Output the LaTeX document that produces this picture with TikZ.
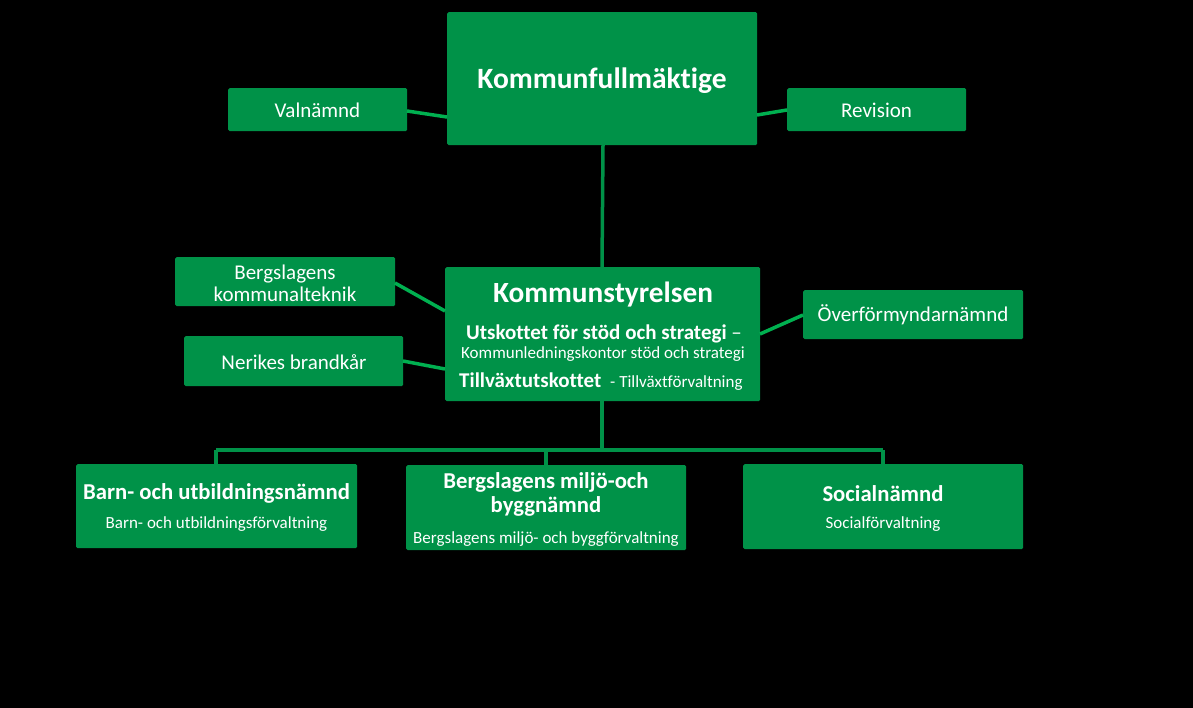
\documentclass[tikz,border=0pt]{standalone}
\usepackage{fontspec}
\setmainfont{Carlito}[Ligatures=NoCommon]
\definecolor{boxgreen}{RGB}{0,146,72}
\definecolor{linegreen}{RGB}{0,176,80}
\begin{document}
\begin{tikzpicture}[x=1pt,y=-1pt,
  box/.style={fill=boxgreen, draw=none, rounded corners=1.5pt, inner sep=0pt, text=white, align=center, anchor=north west},
  lbl/.style={text=white, inner sep=0pt, align=center, anchor=center},
  side/.style={draw=linegreen, line width=3.5pt},
  trunk/.style={draw=boxgreen, line width=3.5pt}]
\fill[black] (0,0) rectangle (1193,708);
\useasboundingbox (0,0) rectangle (1193,708);

% boxes
\node[box, minimum width=310pt, minimum height=133pt] (kf) at (447,12) {};
\node[box, minimum width=179pt, minimum height=43pt] (val) at (228,88) {};
\node[box, minimum width=179pt, minimum height=43pt] (rev) at (787,88) {};
\node[box, minimum width=315pt, minimum height=134pt] (ks) at (445,267) {};
\node[box, minimum width=220pt, minimum height=49pt] (bk) at (175,257) {};
\node[box, minimum width=219pt, minimum height=50pt] (nb) at (184,336) {};
\node[box, minimum width=220pt, minimum height=49pt] (of) at (803,290) {};
\node[box, minimum width=281pt, minimum height=84pt] (bu) at (76,464) {};
\node[box, minimum width=280pt, minimum height=85pt] (bm) at (406,465) {};
\node[box, minimum width=280pt, minimum height=85pt] (sn) at (743,464) {};

% texts
\node[lbl, font=\bfseries\fontsize{29.5}{34}\selectfont] (kft) at (602,81) {Kommunfullmäktige};
\node[lbl, font=\fontsize{21}{24}\selectfont] (valt) at (317.5,110) {Valnämnd};
\node[lbl, font=\fontsize{21}{24}\selectfont] (revt) at (876.5,110) {Revision};
\node[lbl, font=\fontsize{21}{22}\selectfont] (bkt) at (285,283) {Bergslagens\\kommunalteknik};
\node[lbl, font=\fontsize{21}{24}\selectfont] (nbt) at (294,362) {Nerikes brandkår};
\node[lbl, font=\fontsize{21}{24}\selectfont] (oft) at (913,315) {Överförmyndarnämnd};

\node[lbl, font=\bfseries\fontsize{29.3}{34}\selectfont] (kst) at (603,294.5) {Kommunstyrelsen};
\node[lbl, anchor=base west, font=\bfseries\fontsize{21}{24}\selectfont] (ks1) at (466,339) {Utskottet för stöd och strategi \mdseries\char"2013};
\node[lbl, font=\fontsize{17}{20}\selectfont] (ks2) at (603,354) {Kommunledningskontor stöd och strategi};
\node[lbl, anchor=base west, font=\bfseries\fontsize{21}{24}\selectfont] (ks3) at (459,387) {Tillväxtutskottet};
\node[lbl, anchor=base west, font=\fontsize{17}{20}\selectfont] (ks4) at (610,387) {- Tillväxtförvaltning};

\node[lbl, font=\bfseries\fontsize{22.7}{26}\selectfont] (but) at (216.5,493.5) {Barn- och utbildningsnämnd};
\node[lbl, font=\fontsize{17}{20}\selectfont] (bus) at (216.5,524) {Barn- och utbildningsförvaltning};
\node[lbl, font=\bfseries\fontsize{22.7}{24}\selectfont] (bmt) at (546,494.5) {Bergslagens miljö-och\\byggnämnd};
\node[lbl, font=\fontsize{17}{20}\selectfont] (bms) at (546,539) {Bergslagens miljö- och byggförvaltning};
\node[lbl, font=\bfseries\fontsize{22.7}{26}\selectfont] (snt) at (883,493.5) {Socialnämnd};
\node[lbl, font=\fontsize{17}{20}\selectfont] (sns) at (883,524) {Socialförvaltning};

% connectors
\coordinate (kfb) at (603,145);
\coordinate (kst0) at (602,267);
\draw[trunk] (kfb) -- (kst0);
\coordinate (v1) at (407,111);
\coordinate (v2) at (447,117);
\draw[side] (v1) -- (v2);
\coordinate (r1) at (757,115);
\coordinate (r2) at (787,110);
\draw[side] (r1) -- (r2);
\coordinate (b1) at (395,283);
\coordinate (b2) at (445,311);
\draw[side] (b1) -- (b2);
\coordinate (n1) at (403,361);
\coordinate (n2) at (445,369);
\draw[side] (n1) -- (n2);
\coordinate (o1) at (803,315);
\coordinate (o2) at (760,334);
\draw[side] (o1) -- (o2);
\coordinate (ksb) at (602,401);
\coordinate (hub) at (602,450);
\coordinate (hl) at (216,450);
\coordinate (hm) at (546,450);
\coordinate (hr) at (883,450);
\draw[trunk] (ksb) -- (hub);
\draw[trunk] (hl) -- (hr);
\draw[trunk] (hl) -- (hl |- bu.north);
\draw[trunk] (hm) -- (hm |- bm.north);
\draw[trunk] (hr) -- (hr |- sn.north);
\end{tikzpicture}
\end{document}
